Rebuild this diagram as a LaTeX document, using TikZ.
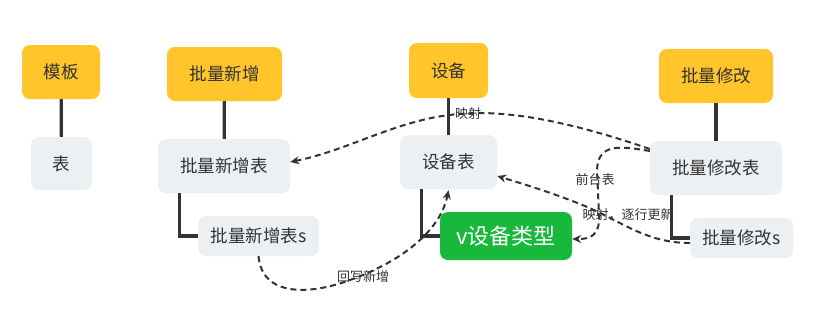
\documentclass[tikz,border=0pt]{standalone}
\usepackage{fontspec}
\newfontfamily\cjk{Noto Sans CJK SC}
\usetikzlibrary{arrows.meta}
\definecolor{yellowc}{HTML}{FFC52B}
\definecolor{grayc}{HTML}{EDF0F3}
\definecolor{greenc}{HTML}{17B83C}
\definecolor{textc}{HTML}{333333}
\definecolor{linec}{HTML}{333333}
\begin{document}
\begin{tikzpicture}[x=1pt,y=-1pt,
  box/.style={rounded corners=8pt, inner sep=0pt, text=textc, font=\cjk\fontsize{17.5}{20}\selectfont},
  topic/.style={box, fill=yellowc},
  sub/.style={box, fill=grayc},
  main/.style={box, fill=greenc, text=white, font=\cjk\fontsize{22}{26}\selectfont},
  link/.style={draw=linec, line width=3.2pt},
  rel/.style={draw=linec, line width=2pt, dash pattern=on 6pt off 4pt, -{Stealth[length=9pt,width=8pt]}},
  lbl/.style={text=textc, font=\cjk\fontsize{13}{15}\selectfont, inner sep=1pt}
]
\useasboundingbox (0,0) rectangle (816,322);

% topics
\node[topic, minimum width=78pt, minimum height=54pt] (mb) at (61,72) {模板};
\node[topic, minimum width=115pt, minimum height=54pt] (plxz) at (224.5,74) {批量新增};
\node[topic, minimum width=79pt, minimum height=55pt] (sb) at (448.5,70.5) {设备};
\node[topic, minimum width=114pt, minimum height=54pt] (plxg) at (716,76) {批量修改};

% subtopics
\node[sub, minimum width=61pt, minimum height=53pt] (b) at (61.5,163.5) {表};
\node[sub, minimum width=132pt, minimum height=54pt] (plxzb) at (224,166) {批量新增表};
\node[sub, minimum width=121pt, minimum height=40pt] (plxzbs) at (258.5,236) {批量新增表s};
\node[sub, minimum width=97pt, minimum height=54pt] (sbb) at (448.5,162) {设备表};
\node[main, minimum width=132pt, minimum height=48pt] (vsb) at (506,236) {v设备类型};
\node[sub, minimum width=132pt, minimum height=54pt] (plxgb) at (716,168) {批量修改表};
\node[sub, minimum width=103pt, minimum height=40pt] (plxgs) at (741.5,238) {批量修改s};

% tree links
\draw[link] (mb) -- (b);
\draw[link] (plxz) -- (plxzb);
\draw[link] (sb) -- (sbb);
\draw[link] (plxg) -- (plxgb);
\draw[link] ([xshift=22pt]plxzb.south west) |- (plxzbs.west);
\draw[link] ([xshift=22pt]sbb.south west) |- (vsb.west);
\draw[link] ([xshift=22pt]plxgb.south west) |- (plxgs.west);

% relations
\coordinate (m1) at (460,114);
\draw[rel] ([yshift=19pt]plxgb.west) .. controls (560,118) and (500,110) .. (m1)
  .. controls (400,118) and (350,150) .. ([yshift=4pt]plxzb.east);
\node[lbl] (l1) at (468,114) {映射};

\draw[rel] ([yshift=17pt]plxgb.west) .. controls (620,146) and (598,143) .. (597,170)
  -- (599,215) .. controls (600,236) and (590,239) .. ([yshift=-3pt]vsb.east);
\node[lbl] (l2) at (595,180) {前台表};

\coordinate (m3) at (580,204);
\draw[rel] ([yshift=-5pt]plxgs.west) .. controls (645,243) and (620,220) .. (m3)
  .. controls (550,192) and (520,183) .. ([yshift=-14pt]sbb.east);
\node[lbl] (l3) at (628,215) {映射，逐行更新};

\coordinate (m4) at (350,280);
\draw[rel] (plxzbs.south) .. controls (262,297) and (310,295) .. (m4)
  .. controls (400,262) and (440,232) .. ([yshift=-1pt]sbb.south);
\node[lbl] (l4) at (363,277) {回写新增};
\end{tikzpicture}
\end{document}
